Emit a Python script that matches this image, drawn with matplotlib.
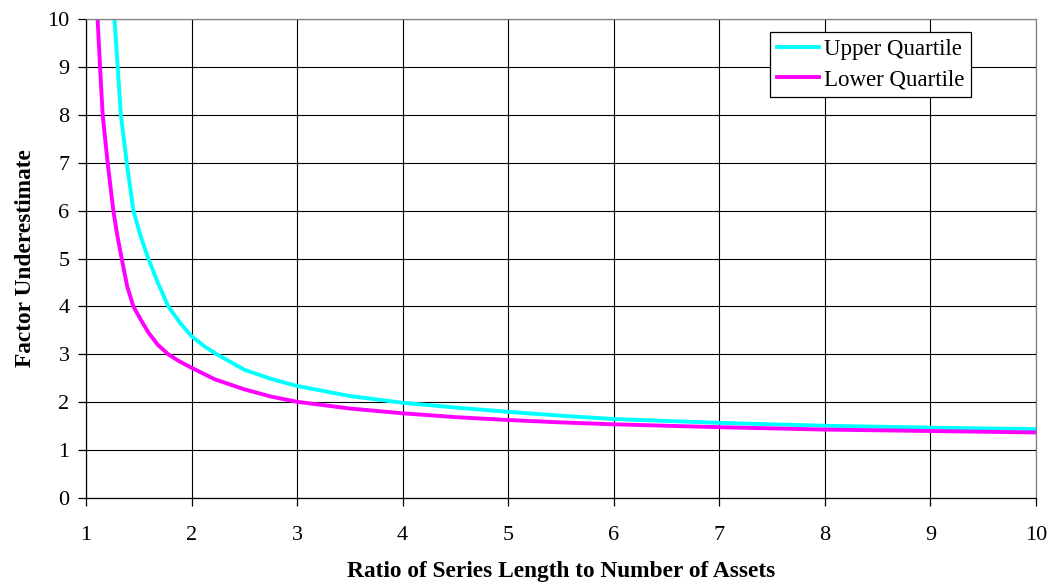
import numpy as np
import matplotlib
matplotlib.use("Agg")
import matplotlib.pyplot as plt

plt.rcParams["font.family"] = ["Liberation Serif", "DejaVu Serif"]

# values
upper_x = [1.27, 1.30, 1.33, 1.386, 1.449, 1.52, 1.59, 1.68, 1.78, 1.89, 2.0, 2.12,
           2.24, 2.5, 2.75, 3.0, 3.5, 4.0, 4.5, 5.0, 5.5, 6.0, 7.0, 8.0, 9.0, 10.0]
upper_y = [10.0, 9.0, 8.0, 7.0, 6.0, 5.45, 5.0, 4.5, 4.0, 3.66, 3.38, 3.17,
           3.0, 2.68, 2.49, 2.34, 2.13, 1.99, 1.89, 1.80, 1.72, 1.65, 1.57, 1.51, 1.47, 1.44]

lower_x = [1.11, 1.133, 1.158, 1.205, 1.259, 1.295, 1.338, 1.39, 1.449, 1.52, 1.59, 1.68,
           1.78, 1.88, 2.0, 2.22, 2.5, 2.75, 3.0, 3.5, 4.0, 4.5, 5.0, 5.5, 6.0, 7.0,
           8.0, 9.0, 10.0]
lower_y = [10.0, 9.0, 8.0, 7.0, 6.0, 5.5, 5.0, 4.42, 4.0, 3.72, 3.46, 3.2,
           3.0, 2.86, 2.72, 2.48, 2.27, 2.12, 2.01, 1.87, 1.77, 1.69, 1.63, 1.58, 1.54, 1.48,
           1.43, 1.40, 1.37]

x_ticks = list(range(1, 11))
y_ticks = list(range(0, 11))

fig = plt.figure(figsize=(10.5, 5.86), dpi=100)
ax = fig.add_axes([0.0819, 0.150, 0.9048, 0.8176])

ax.plot(upper_x, upper_y, color="#00FFFF", lw=2.8, label="Upper Quartile",
        solid_joinstyle="round")
ax.plot(lower_x, lower_y, color="#FF00FF", lw=2.8, label="Lower Quartile",
        solid_joinstyle="round")

ax.set_xlim(1, 10)
ax.set_ylim(0, 10)
ax.set_xticks(x_ticks)
ax.set_yticks(y_ticks)
ax.grid(True, color="black", lw=0.8)
ax.set_axisbelow(True)

for s in ["top", "right"]:
    ax.spines[s].set_color("#808080")
for s in ["left", "bottom"]:
    ax.spines[s].set_color("black")
for s in ax.spines.values():
    s.set_linewidth(0.9)

ax.tick_params(axis="both", direction="out", length=5.8, width=0.9, labelsize=16)
ax.tick_params(axis="x", pad=14)
ax.tick_params(axis="y", pad=6)

ax.set_xlabel("Ratio of Series Length to Number of Assets", fontsize=16.8,
              fontweight="bold", labelpad=12)
ax.set_ylabel("Factor Underestimate", fontsize=16.8, fontweight="bold", labelpad=8)

leg = ax.legend(loc="upper right", bbox_to_anchor=(0.9316, 0.973), fontsize=16.5,
                fancybox=False, edgecolor="black", framealpha=1,
                handlelength=1.85, handletextpad=0.2, borderpad=0.3,
                labelspacing=0.4, borderaxespad=0)
leg.get_frame().set_linewidth(0.9)

fig.savefig("out.png", dpi=100)
